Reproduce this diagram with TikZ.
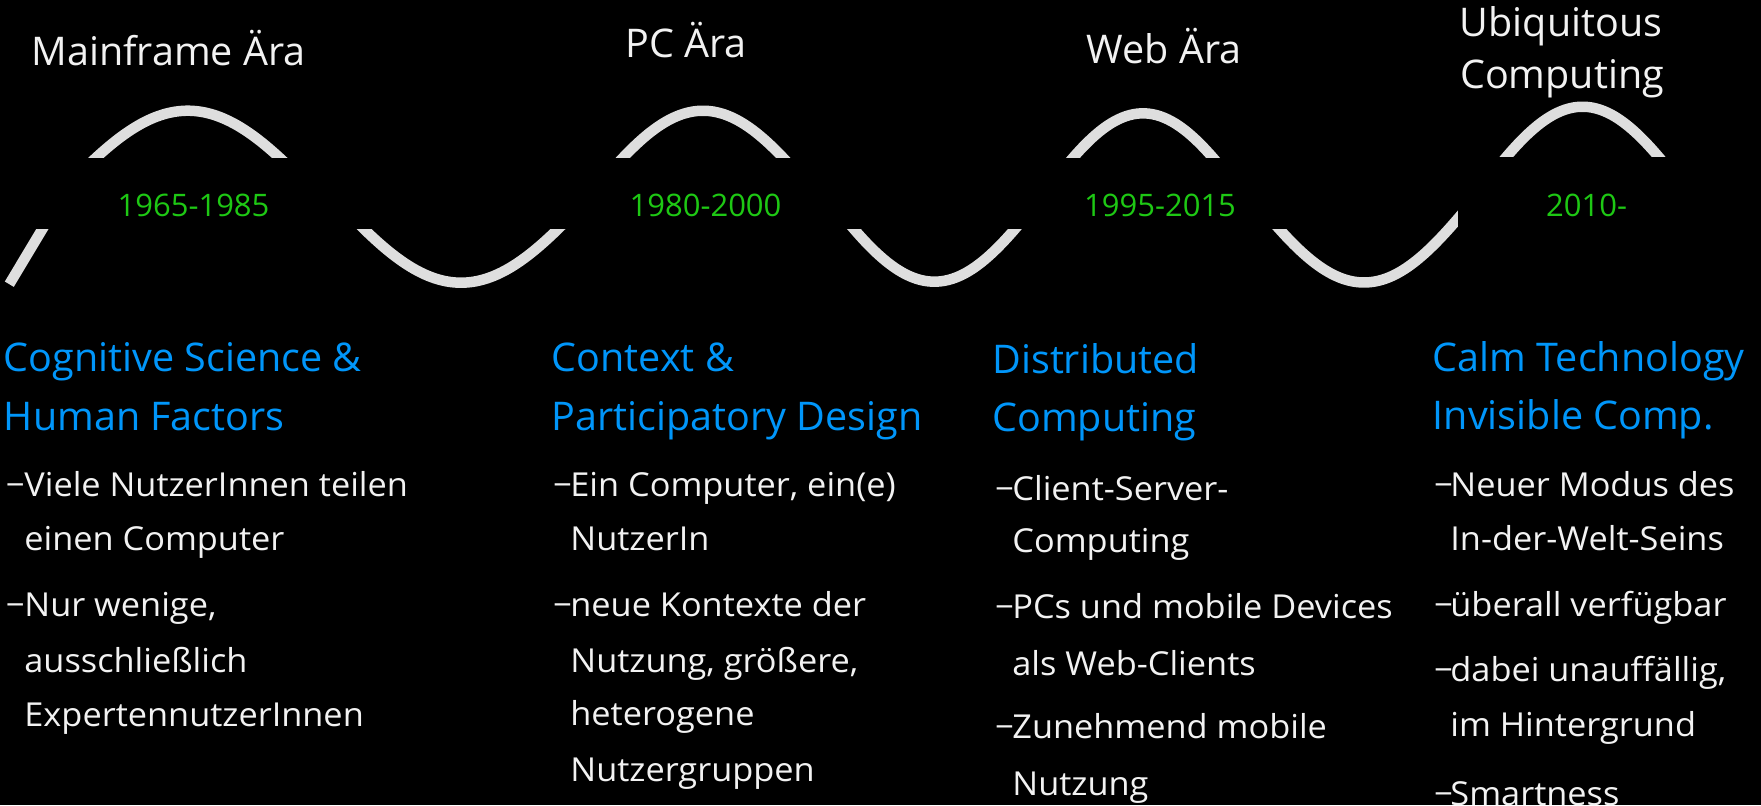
\documentclass[tikz,border=0pt]{standalone}
\usepackage{fontspec}
\setmainfont{Open Sans}
\newfontfamily\bodyfont{Open Sans}[FakeStretch=1.04]
\definecolor{wavegray}{RGB}{222,222,222}
\definecolor{textwhite}{RGB}{242,242,242}
\definecolor{headblue}{RGB}{0,150,250}
\definecolor{yeargreen}{RGB}{30,200,20}
\begin{document}
\begin{tikzpicture}[x=0.5pt,y=-0.5pt,
  erastyle/.style={text=textwhite, font=\fontsize{19.75}{24}\selectfont, inner sep=0pt, anchor=base},
  headstyle/.style={text=headblue, font=\fontsize{19.75}{24}\selectfont, inner sep=0pt, anchor=base west},
  bodystyle/.style={text=textwhite, font=\bodyfont\fontsize{16.5}{20}\selectfont, inner sep=0pt, anchor=base west},
  dashstyle/.style={text=textwhite, font=\fontsize{16.5}{20}\selectfont, inner sep=0pt, anchor=base west},
  yearstyle/.style={text=yeargreen, font=\fontsize{15.5}{18}\selectfont, inner sep=0pt, anchor=base},
  wavestyle/.style={draw=wavegray, line width=5.25pt, line cap=butt},
  maskstyle/.style={fill=black, draw=none}]

% canvas
\useasboundingbox (0,0) rectangle (1761,805);
\fill[black] (0,0) rectangle (1761,805);

% ---- wave: crests and troughs ----
\draw[wavestyle] (9.3,284.2) -- (59.8,200);
\draw[wavestyle] plot[smooth, samples=60, domain=-144.1:144.1] ({187.8+\x},{110.7+86*(1-cos(\x/262*180))});
\draw[wavestyle] plot[smooth, samples=60, domain=-141.4:141.4] ({461+\x},{282.7-86*(1-cos(\x/257*180))});
\draw[wavestyle] plot[smooth, samples=60, domain=-125.7:125.7] ({703+\x},{110.7+86*(1-cos(\x/228.5*180))});
\draw[wavestyle] plot[smooth, samples=60, domain=-118.6:118.6] ({934.4+\x},{281.7-86*(1-cos(\x/215.6*180))});
\draw[wavestyle] plot[smooth, samples=60, domain=-113.3:113.3] ({1143+\x},{113.3+86*(1-cos(\x/206*180))});
\draw[wavestyle] plot[smooth, samples=60, domain=-123.8:123.8] ({1364+\x},{282.5-86*(1-cos(\x/225*180))});
\draw[wavestyle] plot[smooth, samples=60, domain=-115.3:115.3] ({1582.5+\x},{106.7+86*(1-cos(\x/209.6*180))});

% black label bands over the wave
\fill[maskstyle] (-5,157.6) rectangle (1430,229.2);
\fill[maskstyle] (1458,157.4) rectangle (1766,236);

% ---- era titles ----
\node[erastyle] (t1) at (168.5,65) {Mainframe Ära};
\node[erastyle] (t2) at (686,57) {PC Ära};
\node[erastyle] (t3) at (1164,63) {Web Ära};
\node[erastyle] (t4a) at (1561,36.7) {Ubiquitous};
\node[erastyle] (t4b) at (1562,88.3) {Computing};

% ---- years ----
\node[yearstyle] (y1) at (193.5,216.7) {1965-1985};
\node[yearstyle] (y2) at (705.5,216.3) {1980-2000};
\node[yearstyle] (y3) at (1160,216.5) {1995-2015};
\node[yearstyle] (y4) at (1586.5,216.3) {2010-};

% ---- column 1 ----
\node[headstyle] (h1a) at (3.5,371.7) {Cognitive Science \&};
\node[headstyle] (h1b) at (3.5,430) {Human Factors};
\node[dashstyle] (d1a) at (5.5,496.7) {−};
\node[bodystyle] (b1a) at (24,496.7) {Viele NutzerInnen teilen};
\node[bodystyle] (b1b) at (24,550) {einen Computer};
\node[dashstyle] (d1b) at (5.5,616.7) {−};
\node[bodystyle] (b1c) at (24,616.7) {Nur wenige,};
\node[bodystyle] (b1d) at (24,672.7) {ausschließlich};
\node[bodystyle] (b1e) at (24,726) {ExpertennutzerInnen};

% ---- column 2 ----
\node[headstyle] (h2a) at (551.5,371.7) {Context \&};
\node[headstyle] (h2b) at (551.5,430) {Participatory Design};
\node[dashstyle] (d2a) at (552.8,496.7) {−};
\node[bodystyle] (b2a) at (570,496.7) {Ein Computer, ein(e)};
\node[bodystyle] (b2b) at (570,550) {NutzerIn};
\node[dashstyle] (d2b) at (552.8,616.7) {−};
\node[bodystyle] (b2c) at (570,616.7) {neue Kontexte der};
\node[bodystyle] (b2d) at (570,672.7) {Nutzung, größere,};
\node[bodystyle] (b2e) at (570,725) {heterogene};
\node[bodystyle] (b2f) at (570,781.7) {Nutzergruppen};

% ---- column 3 ----
\node[headstyle] (h3a) at (992,373.3) {Distributed};
\node[headstyle] (h3b) at (992,431.7) {Computing};
\node[dashstyle] (d3a) at (994.8,500) {−};
\node[bodystyle] (b3a) at (1012,500) {Client-Server-};
\node[bodystyle] (b3b) at (1012,552.3) {Computing};
\node[dashstyle] (d3b) at (994.8,618.3) {−};
\node[bodystyle] (b3c) at (1012,618.3) {PCs und mobile Devices};
\node[bodystyle] (b3d) at (1012,675) {als Web-Clients};
\node[dashstyle] (d3c) at (994.8,738.3) {−};
\node[bodystyle] (b3e) at (1012,738.3) {Zunehmend mobile};
\node[bodystyle] (b3f) at (1012,795) {Nutzung};

% ---- column 4 ----
\node[headstyle] (h4a) at (1432.5,371.7) {Calm Technology};
\node[headstyle] (h4b) at (1432.5,429.3) {Invisible Comp.};
\node[dashstyle] (d4a) at (1433.8,496) {−};
\node[bodystyle] (b4a) at (1450,496) {Neuer Modus des};
\node[bodystyle] (b4b) at (1450,550) {In-der-Welt-Seins};
\node[dashstyle] (d4b) at (1433.8,616) {−};
\node[bodystyle] (b4c) at (1450,616) {überall verfügbar};
\node[dashstyle] (d4c) at (1433.8,681.7) {−};
\node[bodystyle] (b4d) at (1450,681.7) {dabei unauffällig,};
\node[bodystyle] (b4e) at (1450,736) {im Hintergrund};
\node[dashstyle] (d4d) at (1433.8,805) {−};
\node[bodystyle] (b4f) at (1450,805) {Smartness};
\end{tikzpicture}
\end{document}
